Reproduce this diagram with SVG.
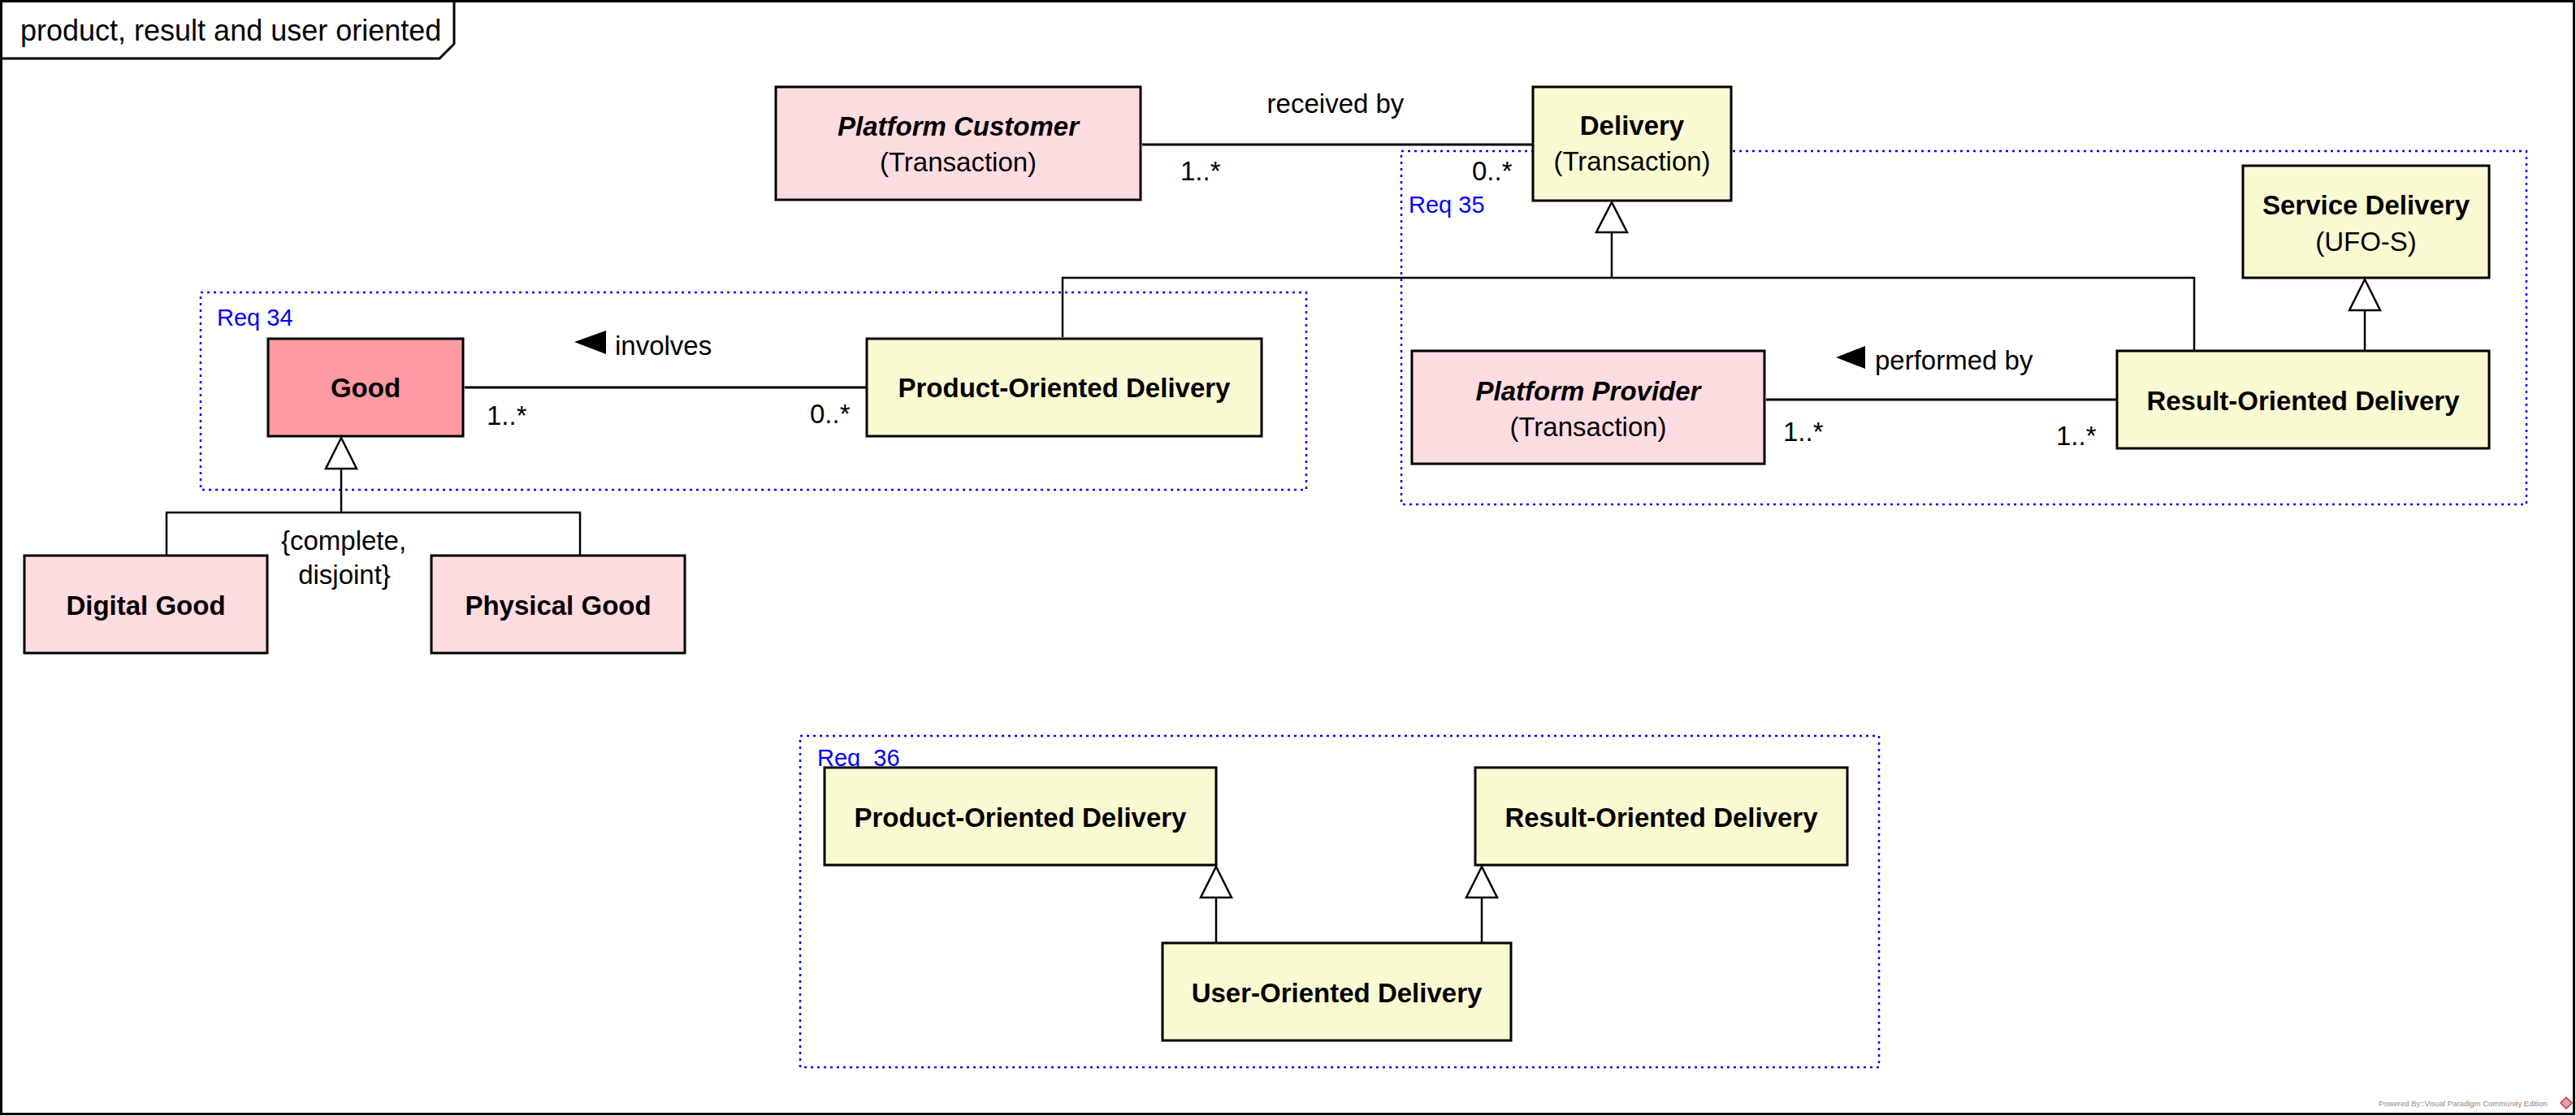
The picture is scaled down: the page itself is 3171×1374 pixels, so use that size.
<svg xmlns="http://www.w3.org/2000/svg" width="3171" height="1374" viewBox="0 0 3171 1374">
<style>
text{font-family:"Liberation Sans",Arial,sans-serif;font-size:33px;fill:#000}
.b{font-weight:bold}
.bi{font-weight:bold;font-style:italic}
.c{text-anchor:middle}
.req{fill:#0000ff;font-size:29px}
.pink{fill:#fddce0;stroke:#000;stroke-width:3}
.good{fill:#ff9aa2;stroke:#000;stroke-width:3}
.yel{fill:#fafad2;stroke:#000;stroke-width:3}
.dot{fill:none;stroke:#0000ff;stroke-width:2.5;stroke-dasharray:3 5}
.ln{fill:none;stroke:#000;stroke-width:3}
.gl{fill:none;stroke:#000;stroke-width:2.5}
.tri{fill:#fff;stroke:#000;stroke-width:2.5}
</style>
<rect x="0" y="0" width="3171" height="1374" fill="#fff"/>
<g id="frame">
<rect x="1.5" y="1.5" width="3167" height="1370" fill="none" stroke="#000" stroke-width="3"/>
<path d="M1.5 72 H541 L559 54 V1.5" fill="none" stroke="#000" stroke-width="3"/>
<text x="25" y="50" style="font-size:36px">product, result and user oriented</text>
</g>
<g id="requirements">
<rect class="dot" x="247" y="360" width="1361" height="243"/>
<text class="req" x="267" y="401">Req 34</text>
<rect class="dot" x="1725" y="186" width="1385" height="435"/>
<text class="req" x="1734" y="262">Req 35</text>
<rect class="dot" x="985" y="906" width="1328" height="408"/>
<text class="req" x="1006" y="943" xml:space="preserve">Req  36</text>
</g>
<g id="connectors">
<line class="ln" x1="1406" y1="178" x2="1886" y2="178"/>
<text class="c" x="1644" y="139">received by</text>
<text x="1453" y="222">1..*</text>
<text x="1812" y="222">0..*</text>
<line class="ln" x1="572" y1="477" x2="1066" y2="477"/>
<polygon points="707,421 746,407 746,436" fill="#000"/>
<text x="757" y="437">involves</text>
<text x="599" y="523">1..*</text>
<text x="997" y="521">0..*</text>
<line class="ln" x1="2174" y1="492" x2="2605" y2="492"/>
<polygon points="2260,440 2296,426 2296,454" fill="#000"/>
<text x="2308" y="455">performed by</text>
<text x="2195" y="543">1..*</text>
<text x="2531" y="548">1..*</text>
<path class="gl" d="M1984 286 V342 M1308 415 V342 H2701 V431"/>
<polygon class="tri" points="1984,249 1965,286 2003,286"/>
<path class="gl" d="M2911 382 V431"/>
<polygon class="tri" points="2911,344 2892,382 2930,382"/>
<path class="gl" d="M420 577 V631 M205 683 V631 H714 V683"/>
<polygon class="tri" points="420,539 401,577 439,577"/>
<text class="c" x="423" y="677">{complete,</text>
<text class="c" x="424" y="719">disjoint}</text>
<path class="gl" d="M1497 1105 V1160 M1824 1105 V1160"/>
<polygon class="tri" points="1497,1067 1478,1105 1516,1105"/>
<polygon class="tri" points="1824,1067 1805,1105 1843,1105"/>
</g>
<g id="platform-customer">
<rect class="pink" x="955" y="107" width="449" height="139"/>
<text class="bi c" x="1179.5" y="167">Platform Customer</text>
<text class="c" x="1179.5" y="211">(Transaction)</text>
</g>
<g id="delivery">
<rect class="yel" x="1887" y="107" width="244" height="140"/>
<text class="b c" x="2009" y="166">Delivery</text>
<text class="c" x="2009" y="210">(Transaction)</text>
</g>
<g id="service-delivery">
<rect class="yel" x="2761" y="204" width="303" height="138"/>
<text class="b c" x="2912.5" y="264">Service Delivery</text>
<text class="c" x="2912.5" y="309">(UFO-S)</text>
</g>
<g id="result-oriented-delivery">
<rect class="yel" x="2606" y="432" width="458" height="120"/>
<text class="b c" x="2835" y="505">Result-Oriented Delivery</text>
</g>
<g id="platform-provider">
<rect class="pink" x="1738" y="432" width="434" height="139"/>
<text class="bi c" x="1955" y="493">Platform Provider</text>
<text class="c" x="1955" y="537">(Transaction)</text>
</g>
<g id="good">
<rect class="good" x="330" y="417" width="240" height="120"/>
<text class="b c" x="450" y="489">Good</text>
</g>
<g id="product-oriented-delivery">
<rect class="yel" x="1067" y="417" width="486" height="120"/>
<text class="b c" x="1310" y="489">Product-Oriented Delivery</text>
</g>
<g id="digital-good">
<rect class="pink" x="30" y="684" width="299" height="120"/>
<text class="b c" x="179.5" y="757">Digital Good</text>
</g>
<g id="physical-good">
<rect class="pink" x="531" y="684" width="312" height="120"/>
<text class="b c" x="687" y="757">Physical Good</text>
</g>
<g id="product-oriented-delivery-2">
<rect class="yel" x="1015" y="945" width="482" height="120"/>
<text class="b c" x="1256" y="1018">Product-Oriented Delivery</text>
</g>
<g id="result-oriented-delivery-2">
<rect class="yel" x="1816" y="945" width="458" height="120"/>
<text class="b c" x="2045" y="1018">Result-Oriented Delivery</text>
</g>
<g id="user-oriented-delivery">
<rect class="yel" x="1431" y="1161" width="429" height="120"/>
<text class="b c" x="1645.5" y="1234">User-Oriented Delivery</text>
</g>
<g id="watermark">
<text x="2928" y="1362" style="font-size:9.5px;fill:#8a8a8a">Powered By::Visual Paradigm Community Edition</text>
<polygon points="3159,1351 3166,1358 3159,1365 3152,1358" fill="#e8a0aa" stroke="#c0394f" stroke-width="1.5"/>
</g>
</svg>
